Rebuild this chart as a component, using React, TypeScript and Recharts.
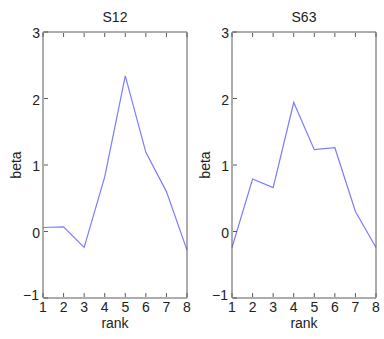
import React from 'react';
import { LineChart, Line, XAxis, YAxis } from 'recharts';

const ranks = [1, 2, 3, 4, 5, 6, 7, 8];
const s12Beta = [0.06, 0.07, -0.24, 0.82, 2.34, 1.19, 0.6, -0.28];
const s63Beta = [-0.24, 0.79, 0.66, 1.94, 1.23, 1.26, 0.3, -0.24];
const betaTicks = [-1, 0, 1, 2, 3];

const FONT = '"Liberation Sans", Arial, sans-serif';
const AXIS = '#5a5a5a';
const W = 192;
const H = 339;
// axes take 1px each, so plot area spans x 43..187, y 32..298
const M = { top: 31, left: 42, right: 4, bottom: 40 };
const PLOT_L = 43;
const PLOT_W = 144;

const BottomTick = (p: any) => (
  <g>
    <line x1={p.x} y1={p.y - 1} x2={p.x} y2={p.y - 5} stroke={AXIS} />
    <text x={p.x} y={p.y + 14} textAnchor="middle" fontSize={14} fill="#222" fontFamily={FONT}>
      {p.payload.value}
    </text>
  </g>
);

const LeftTick = (p: any) => {
  const low = p.payload.value === -1;
  return (
    <g>
      <line x1={p.x + 1} y1={p.y} x2={p.x + 5} y2={p.y} stroke={AXIS} />
      <text
        x={low ? p.x - 4 : p.x - 3}
        y={low ? p.y + 2 : p.y + 6}
        textAnchor="end"
        fontSize={14}
        fill="#222"
        fontFamily={FONT}
      >
        {low ? '\u22121' : p.payload.value}
      </text>
    </g>
  );
};

const TopTick = (p: any) => <line x1={p.x} y1={p.y + 1} x2={p.x} y2={p.y + 5} stroke={AXIS} />;
const RightTick = (p: any) => <line x1={p.x - 1} y1={p.y} x2={p.x - 5} y2={p.y} stroke={AXIS} />;

function Panel({ title, values, left }: { title: string; values: number[]; left: number }) {
  const data = ranks.map((r, i) => ({ rank: r, beta: values[i] }));
  return (
    <div style={{ position: 'absolute', left, top: 0, width: W, height: H }}>
      <LineChart width={W} height={H} data={data} margin={M}>
        <XAxis
          xAxisId="b"
          dataKey="rank"
          type="number"
          domain={[1, 8]}
          ticks={ranks}
          height={1}
          tickSize={0}
          tickMargin={0}
          axisLine={{ stroke: AXIS }}
          tick={BottomTick}
          interval={0}
        />
        <XAxis
          xAxisId="t"
          orientation="top"
          dataKey="rank"
          type="number"
          domain={[1, 8]}
          ticks={ranks}
          height={1}
          tickSize={0}
          tickMargin={0}
          axisLine={{ stroke: AXIS }}
          tick={TopTick}
          interval={0}
        />
        <YAxis
          yAxisId="l"
          type="number"
          domain={[-1, 3]}
          ticks={betaTicks}
          width={1}
          tickSize={0}
          tickMargin={0}
          axisLine={{ stroke: AXIS }}
          tick={LeftTick}
          interval={0}
        />
        <YAxis
          yAxisId="r"
          orientation="right"
          type="number"
          domain={[-1, 3]}
          ticks={betaTicks}
          width={1}
          tickSize={0}
          tickMargin={0}
          axisLine={{ stroke: AXIS }}
          tick={RightTick}
          interval={0}
        />
        <Line
          xAxisId="b"
          yAxisId="l"
          dataKey="beta"
          type="linear"
          stroke="#7c7cff"
          strokeWidth={1.2}
          dot={false}
          isAnimationActive={false}
        />
      </LineChart>
      <div
        style={{
          position: 'absolute', left: PLOT_L, width: PLOT_W, top: 9, textAlign: 'center',
          fontFamily: FONT, fontSize: 14, color: '#222', lineHeight: '16px',
        }}
      >
        {title}
      </div>
      <div
        style={{
          position: 'absolute', left: PLOT_L, width: PLOT_W, top: 316, textAlign: 'center',
          fontFamily: FONT, fontSize: 14, color: '#222', lineHeight: '14px',
        }}
      >
        rank
      </div>
      <div
        style={{
          position: 'absolute', left: 16 - 30, top: 157, width: 60, textAlign: 'center',
          fontFamily: FONT, fontSize: 14, color: '#222', lineHeight: '16px',
          transform: 'rotate(-90deg)', transformOrigin: '30px 8px',
        }}
      >
        beta
      </div>
    </div>
  );
}

export default function App() {
  return (
    <div style={{ position: 'absolute', left: 0, top: 0, width: 384, height: 339, background: '#fff' }}>
      <Panel title="S12" values={s12Beta} left={0} />
      <Panel title="S63" values={s63Beta} left={189} />
    </div>
  );
}
